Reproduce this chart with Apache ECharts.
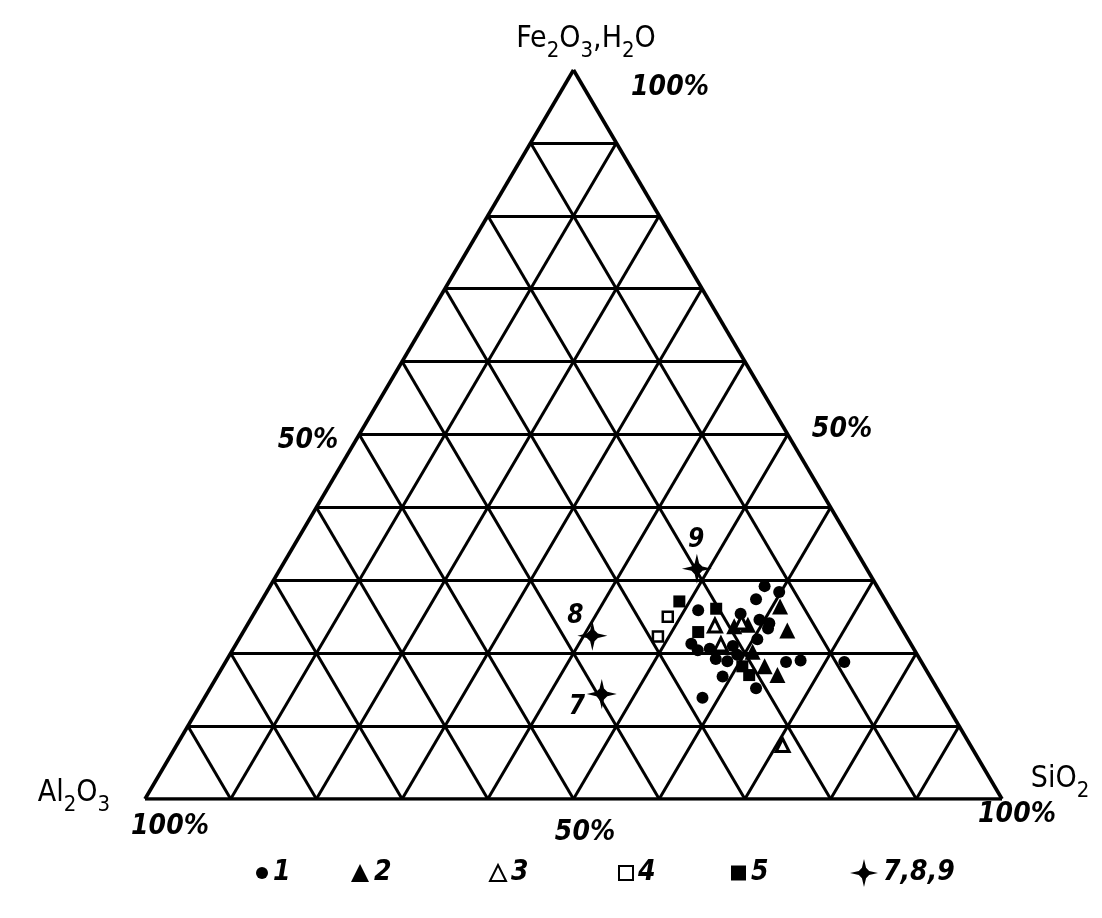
<!DOCTYPE html>
<html><head><meta charset="utf-8">
<script src="https://cdn.jsdelivr.net/npm/echarts@6/dist/echarts.min.js"></script>
<style>html,body{margin:0;padding:0;background:#fff}#c{width:1102px;height:918px}</style>
</head><body><div id="c"></div>
<script>
// Ternary grid: percentage steps of each component
const gridTicks = [10, 20, 30, 40, 50, 60, 70, 80, 90];
// Each point: [SiO2 %, Fe2O3+H2O %]  (Al2O3 % = 100 - both)
const group1 = [[57.7,29.2],[59.8,28.4],[57.6,27.4],[51.6,25.9],[56.8,25.4],[59.4,24.6],[60.8,24.1],[61.0,23.4],[60.5,21.9],[53.1,21.3],[54.3,20.4],[57.0,19.2],[58.5,18.9],[58.1,21.0],[59.2,19.8],[65.4,18.8],[67.0,19.0],[72.2,18.8],[59.0,16.8],[63.7,15.2],[58.1,13.9],[55.6,20.6]];
const group2 = [[60.9,26.4],[63.4,23.1],[60.8,20.2],[63.2,18.2],[65.3,17.0],[58.4,23.9],[56.9,23.7]];
const group3 = [[54.6,23.8],[56.6,21.2],[70.7,7.4],[57.5,24.2]];
const group4 = [[48.5,25.0],[48.7,22.3]];
const group5 = [[48.8,27.1],[53.6,26.1],[53.1,22.9],[60.6,18.2],[62.0,17.0]];
const group789 = [[48.6,31.6],[41.0,22.4],[46.1,14.4]];
const names789 = ['9', '8', '7'];
const legendNames = ['1', '2', '3', '4', '5', '7,8,9'];

const FONT = "'DejaVu Sans Condensed','DejaVu Sans',sans-serif";
const toXY = p => [p[0] + p[1] / 2, p[1]];
const STAR = 'path://M0,-15 L2.2,-5.5 L5.5,-2.2 L15,0 L5.5,2.2 L2.2,5.5 L0,15 L-2.2,5.5 L-5.5,2.2 L-15,0 L-5.5,-2.2 L-2.2,-5.5 Z';

// grid lines from ternary values
const gridLines = [];
gridTicks.forEach(t => {
  gridLines.push({coords: [toXY([0, t]), toXY([100 - t, t])]});        // constant Fe2O3
  gridLines.push({coords: [toXY([t, 0]), toXY([t, 100 - t])]});        // constant SiO2
  gridLines.push({coords: [toXY([100 - t, 0]), toXY([0, 100 - t])]});  // constant Al2O3
});
const border = [
  {coords: [toXY([0, 0]), toXY([100, 0])]},
  {coords: [toXY([100, 0]), toXY([0, 100])]},
  {coords: [toXY([0, 100]), toXY([0, 0])]}
];

const chart = echarts.init(document.getElementById('c'), null, {renderer: 'canvas'});
const legendText = {fontFamily: FONT, fontSize: 28, fontStyle: 'italic', fontWeight: 'bold', color: '#000'};
function leg(name, left, size) {
  return {data: [name], left: left, top: 854, itemWidth: size, itemHeight: size, itemGap: 0,
    textStyle: legendText, selectedMode: false};
}
const legendPos = [[251, 12], [346, 18], [484, 16], [613, 14], [726, 15], [845, 28]];

const txt = (text, x, y, opt) => ({type: 'text', x: x, y: y, style: Object.assign({
  text: text, fill: '#000', font: "italic bold 28px " + FONT, align: 'center', verticalAlign: 'middle'}, opt || {})});
const richFormula = (s) => ({
  text: s, fill: '#000', align: 'center', verticalAlign: 'middle',
  rich: {
    m: {fontFamily: FONT, fontSize: 30, lineHeight: 30, verticalAlign: 'top', fill: '#000'},
    s: {fontFamily: FONT, fontSize: 22, lineHeight: 38, verticalAlign: 'bottom', fill: '#000'}
  }
});
const solid = {color: '#000', opacity: 1};
const labelOffsets = [[6, -26], [-10, -17], [-18, 15]];

chart.setOption({
  animation: false,
  backgroundColor: '#fff',
  grid: {left: 145, right: 100, top: 70, bottom: 119},
  xAxis: {type: 'value', min: 0, max: 100, show: false},
  yAxis: {type: 'value', min: 0, max: 100, show: false},
  legend: legendPos.map((p, i) => leg(legendNames[i], p[0], p[1])),
  graphic: [
    {type: 'text', x: 586, y: 43, style: richFormula('{m|Fe}{s|2}{m|O}{s|3}{m|,H}{s|2}{m|O}')},
    txt('100%', 670, 88),
    txt('50%', 308, 441),
    txt('50%', 842, 430),
    {type: 'text', x: 74, y: 797, style: richFormula('{m|Al}{s|2}{m|O}{s|3}')},
    txt('100%', 170, 827),
    txt('50%', 585, 833),
    {type: 'text', x: 1060, y: 783, style: richFormula('{m|SiO}{s|2}')},
    txt('100%', 1017, 815)
  ],
  series: [
    {type: 'lines', coordinateSystem: 'cartesian2d', silent: true, z: 1,
     lineStyle: {color: '#000', width: 3, opacity: 1}, data: gridLines},
    {type: 'lines', coordinateSystem: 'cartesian2d', silent: true, z: 1,
     lineStyle: {color: '#000', width: 3.6, opacity: 1}, data: border},
    {name: '1', type: 'scatter', z: 3, symbol: 'circle', symbolSize: 12,
     itemStyle: solid, data: group1.map(toXY)},
    {name: '2', type: 'scatter', z: 4, symbol: 'triangle', symbolSize: 16,
     itemStyle: solid, data: group2.map(toXY)},
    {name: '3', type: 'scatter', z: 5, symbol: 'triangle', symbolSize: 13,
     itemStyle: {color: '#fff', borderColor: '#000', borderWidth: 3, opacity: 1}, data: group3.map(toXY)},
    {name: '4', type: 'scatter', z: 5, symbol: 'rect', symbolSize: 10,
     itemStyle: {color: '#fff', borderColor: '#000', borderWidth: 2.5, opacity: 1}, data: group4.map(toXY)},
    {name: '5', type: 'scatter', z: 5, symbol: 'rect', symbolSize: 12,
     itemStyle: solid, data: group5.map(toXY)},
    {name: '7,8,9', type: 'scatter', z: 6, symbol: STAR, symbolSize: 30,
     itemStyle: solid,
     data: group789.map((p, i) => ({name: names789[i], value: toXY(p),
       label: {show: true, formatter: '{b}', fontFamily: FONT, fontSize: 26, fontStyle: 'italic', fontWeight: 'bold', color: '#000', opacity: 1,
         position: labelOffsets[i]}}))}
  ]
});
</script></body></html>
